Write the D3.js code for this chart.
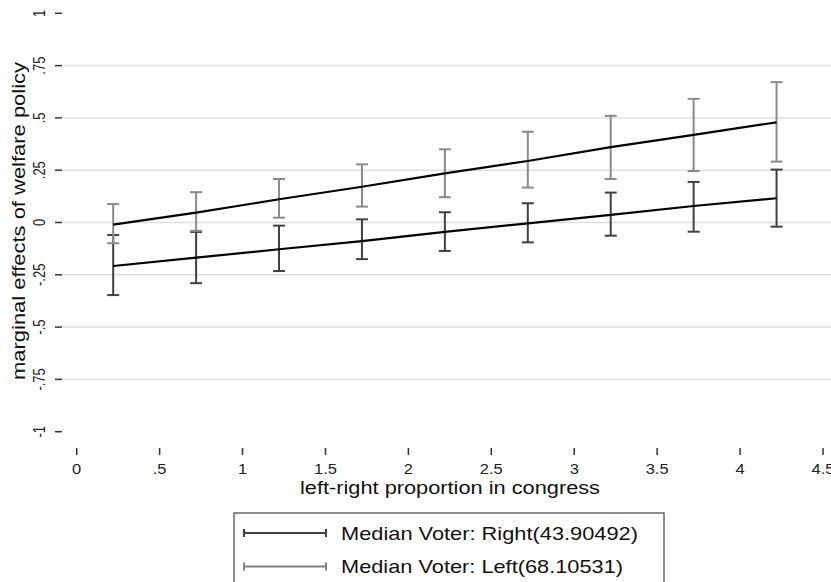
<!DOCTYPE html>
<html>
<head>
<meta charset="utf-8">
<script src="https://cdn.jsdelivr.net/npm/d3@7"></script>
<style>
  body { margin: 0; background: #fff; }
  svg { display: block; font-family: "Liberation Sans", Arial, sans-serif; }
</style>
</head>
<body>
<svg id="chart" width="831" height="582"></svg>
<script>
// values
const xVals = [0.22, 0.72, 1.22, 1.72, 2.22, 2.72, 3.22, 3.72, 4.22];

// Median voter: right (dark)
const rightEst = [-0.208, -0.168, -0.128, -0.089, -0.045, -0.004, 0.036, 0.079, 0.116];
const rightLo  = [-0.347, -0.290, -0.232, -0.175, -0.136, -0.095, -0.063, -0.044, -0.020];
const rightHi  = [-0.060, -0.045, -0.015,  0.015,  0.049,  0.092,  0.143,  0.194,  0.253];

// Median voter: left (gray)
const leftEst = [-0.010, 0.047, 0.111, 0.171, 0.235, 0.294, 0.360, 0.419, 0.479];
const leftLo  = [-0.099, -0.040, 0.023, 0.076, 0.121, 0.167, 0.208, 0.246, 0.291];
const leftHi  = [ 0.088, 0.145, 0.208, 0.278, 0.350, 0.434, 0.510, 0.591, 0.671];

const yTicks = [1, 0.75, 0.5, 0.25, 0, -0.25, -0.5, -0.75, -1];
const yTickLabels = ["1", ".75", ".5", ".25", "0", "-.25", "-.5", "-.75", "-1"];
const yGrid = [0.75, 0.5, 0.25, 0, -0.25, -0.5, -0.75];
const xTicks = [0, 0.5, 1, 1.5, 2, 2.5, 3, 3.5, 4, 4.5];
const xTickLabels = ["0", ".5", "1", "1.5", "2", "2.5", "3", "3.5", "4", "4.5"];

const legendLabels = ["Median Voter: Right(43.90492)", "Median Voter: Left(68.10531)"];

const svg = d3.select("#chart");

const x = d3.scaleLinear().domain([0, 4.5]).range([76.7, 823]);
const y = d3.scaleLinear().domain([-1, 1]).range([431.7, 13.3]);

// gridlines
svg.append("g").selectAll("line")
  .data(yGrid)
  .enter().append("line")
  .attr("x1", 63).attr("x2", 831)
  .attr("y1", d => y(d)).attr("y2", d => y(d))
  .attr("stroke", "#dedede")
  .attr("stroke-width", 1.5);

// y axis ticks + labels
const yAx = svg.append("g");
yAx.selectAll("line")
  .data(yTicks)
  .enter().append("line")
  .attr("x1", 55).attr("x2", 62)
  .attr("y1", d => y(d)).attr("y2", d => y(d))
  .attr("stroke", "#333").attr("stroke-width", 1.5);
yAx.selectAll("text")
  .data(yTicks)
  .enter().append("text")
  .attr("transform", d => "translate(45," + y(d) + ") rotate(-90) scale(1,1.2)")
  .attr("text-anchor", "middle")
  .attr("font-size", 13)
  .attr("fill", "#222")
  .text((d, i) => yTickLabels[i]);

svg.append("text")
  .attr("transform", "translate(25,221) rotate(-90)")
  .attr("text-anchor", "middle")
  .attr("font-size", 19)
  .attr("textLength", 318)
  .attr("lengthAdjust", "spacingAndGlyphs")
  .attr("fill", "#111")
  .text("marginal effects of welfare policy");

// x axis ticks + labels
const xAx = svg.append("g");
xAx.selectAll("line")
  .data(xTicks)
  .enter().append("line")
  .attr("x1", d => x(d)).attr("x2", d => x(d))
  .attr("y1", 448).attr("y2", 455)
  .attr("stroke", "#333").attr("stroke-width", 1.5);
xAx.selectAll("text")
  .data(xTicks)
  .enter().append("text")
  .attr("transform", d => "translate(" + x(d) + ",474) scale(1.18,1)")
  .attr("text-anchor", "middle")
  .attr("font-size", 14)
  .attr("fill", "#222")
  .text((d, i) => xTickLabels[i]);

svg.append("text")
  .attr("x", 300)
  .attr("y", 494)
  .attr("font-size", 18)
  .attr("textLength", 300)
  .attr("lengthAdjust", "spacingAndGlyphs")
  .attr("fill", "#111")
  .text("left-right proportion in congress");

// error bars
function errorBars(lo, hi, color){
  const g = svg.append("g")
    .attr("stroke", color)
    .attr("stroke-width", 2);
  xVals.forEach((xv, i) => {
    const cx = x(xv);
    g.append("line").attr("x1", cx).attr("x2", cx).attr("y1", y(lo[i])).attr("y2", y(hi[i]));
    g.append("line").attr("x1", cx - 6).attr("x2", cx + 6).attr("y1", y(lo[i])).attr("y2", y(lo[i]));
    g.append("line").attr("x1", cx - 6).attr("x2", cx + 6).attr("y1", y(hi[i])).attr("y2", y(hi[i]));
  });
}
errorBars(rightLo, rightHi, "#404040");
errorBars(leftLo, leftHi, "#8a8a8a");

const line = d3.line()
  .x(d => x(d[0]))
  .y(d => y(d[1]));

[rightEst, leftEst].forEach(est => {
  svg.append("path")
    .attr("d", line(xVals.map((xv, i) => [xv, est[i]])))
    .attr("fill", "none")
    .attr("stroke", "#000")
    .attr("stroke-width", 2.2);
});

// legend
const leg = svg.append("g");
leg.append("rect")
  .attr("x", 234).attr("y", 513)
  .attr("width", 430).attr("height", 90)
  .attr("fill", "#fff")
  .attr("stroke", "#444")
  .attr("stroke-width", 1.2);

const legColors = ["#404040", "#808080"];
const legWidths = [297, 282];
legendLabels.forEach((lab, i) => {
  const ly = 533 + i * 33.5;
  const g = leg.append("g").attr("stroke", legColors[i]).attr("stroke-width", 2);
  g.append("line").attr("x1", 244).attr("x2", 326).attr("y1", ly).attr("y2", ly);
  g.append("line").attr("x1", 244).attr("x2", 244).attr("y1", ly - 4).attr("y2", ly + 4);
  g.append("line").attr("x1", 326).attr("x2", 326).attr("y1", ly - 4).attr("y2", ly + 4);
  leg.append("text")
    .attr("x", 341)
    .attr("y", ly + 6.5)
    .attr("font-size", 19)
    .attr("textLength", legWidths[i])
    .attr("lengthAdjust", "spacingAndGlyphs")
    .attr("fill", "#111")
    .text(lab);
});
</script>
</body>
</html>
